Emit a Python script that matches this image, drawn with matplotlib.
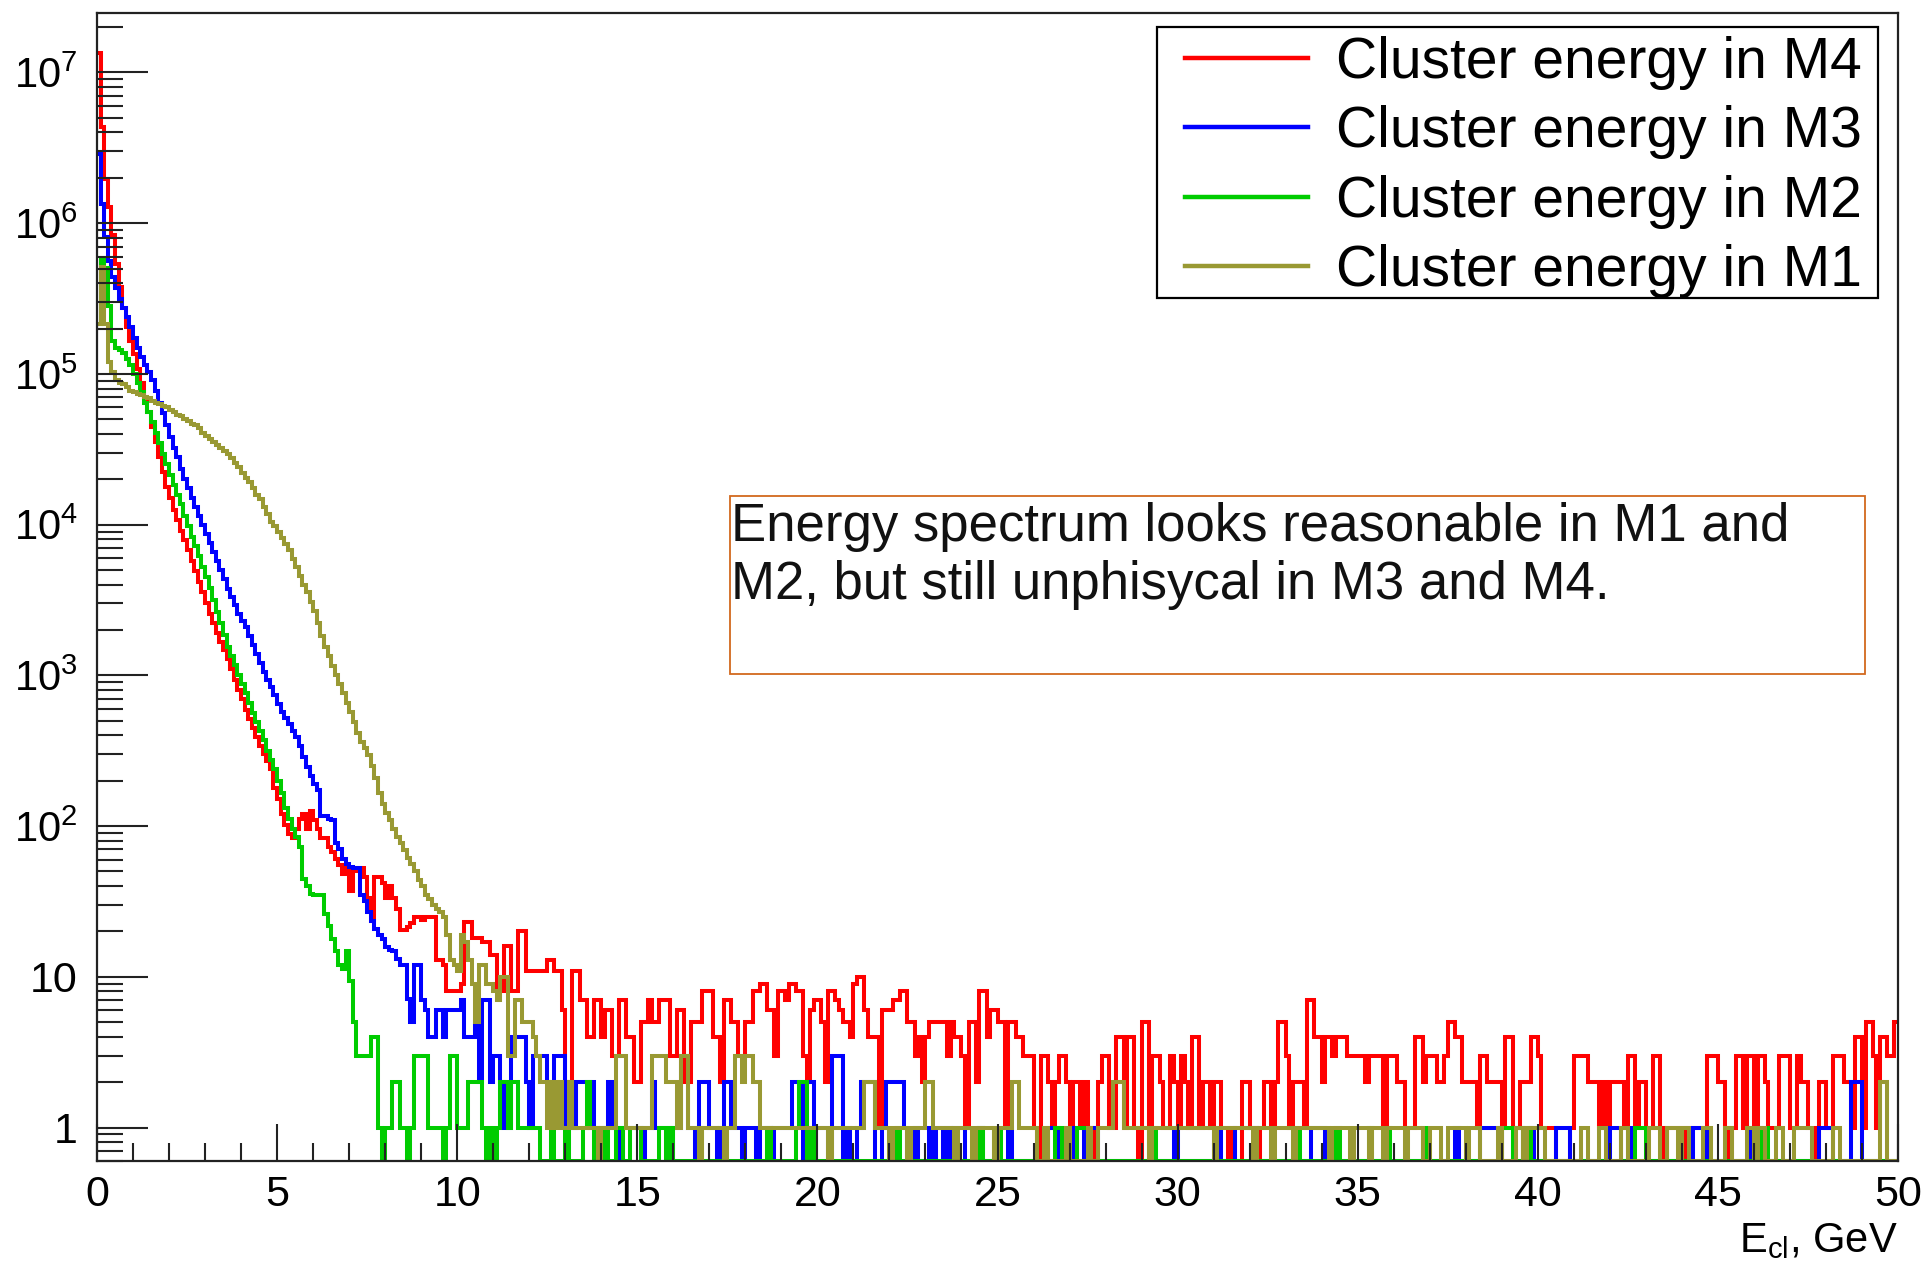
import numpy as np
import matplotlib
matplotlib.use("Agg")
import matplotlib.pyplot as plt
from matplotlib.patches import Rectangle
from matplotlib.lines import Line2D
from matplotlib.ticker import MultipleLocator, LogLocator, NullFormatter

plt.rcParams['font.family'] = ['Liberation Sans', 'DejaVu Sans']
plt.rcParams['mathtext.fontset'] = 'custom'
plt.rcParams['mathtext.rm'] = 'Liberation Sans'
plt.rcParams['mathtext.it'] = 'Liberation Sans:italic'
plt.rcParams['mathtext.bf'] = 'Liberation Sans:bold'

# binning of the histograms (GeV)
e_lo, e_hi, n_bins = 0.0, 50.0, 500

# steep part of each spectrum as log10(entries), bin by bin (0.1 GeV bins)
m4_head_log = [
    7.13, 6.64, 6.29, 6.11, 5.92, 5.73, 5.58, 5.44, 5.31, 5.22,
    5.13, 5.03, 4.94, 4.85, 4.75, 4.65, 4.55, 4.45, 4.35, 4.25,
    4.18, 4.10, 4.03, 3.96, 3.90, 3.83, 3.76, 3.69, 3.62, 3.55,
    3.48, 3.41, 3.35, 3.28, 3.22, 3.17, 3.11, 3.04, 2.97, 2.90,
    2.84, 2.77, 2.71, 2.65, 2.59, 2.53, 2.48, 2.43, 2.38, 2.25,
    2.18, 2.08, 2.01, 1.95, 1.92, 1.98, 2.05, 2.08, 1.98, 2.10,
    2.04, 1.98, 1.92, 1.92, 1.86, 1.83, 1.78, 1.74, 1.68, 1.72,
    1.57, 1.72, 1.70, 1.72, 1.66, 1.52, 1.37, 1.66, 1.66, 1.62,
    1.52, 1.60, 1.52, 1.45, 1.31, 1.31, 1.33, 1.36, 1.40, 1.40,
]
m3_head_log = [
    6.46, 6.13, 5.91, 5.75, 5.64, 5.57, 5.50, 5.44, 5.38, 5.31,
    5.24, 5.17, 5.11, 5.06, 5.01, 4.96, 4.89, 4.81, 4.74, 4.66,
    4.58, 4.51, 4.45, 4.37, 4.30, 4.24, 4.18, 4.12, 4.06, 4.00,
    3.94, 3.88, 3.82, 3.76, 3.70, 3.64, 3.57, 3.52, 3.47, 3.41,
    3.36, 3.32, 3.26, 3.20, 3.14, 3.08, 3.02, 2.97, 2.92, 2.87,
    2.81, 2.76, 2.72, 2.68, 2.63, 2.59, 2.53, 2.46, 2.39, 2.33,
    2.28, 2.24, 2.07, 2.07, 2.05, 2.04, 1.89, 1.85, 1.78, 1.75,
    1.73, 1.72, 1.72, 1.54, 1.50, 1.43, 1.37, 1.32, 1.28, 1.25,
    1.20, 1.18, 1.17, 1.12, 1.08, 1.08, 0.85, 0.70, 1.08, 1.08,
]
m2_head_log = [
    5.33, 5.77, 5.70, 5.45, 5.22, 5.17, 5.16, 5.14, 5.10, 5.06,
    5.00, 4.94, 4.88, 4.81, 4.75, 4.68, 4.61, 4.54, 4.47, 4.40,
    4.33, 4.26, 4.20, 4.14, 4.06, 3.99, 3.92, 3.86, 3.79, 3.72,
    3.65, 3.58, 3.50, 3.42, 3.35, 3.27, 3.19, 3.13, 3.07, 3.00,
    2.94, 2.88, 2.82, 2.75, 2.69, 2.63, 2.57, 2.50, 2.44, 2.38,
    2.30, 2.22, 2.12, 2.05, 1.98, 1.93, 1.86, 1.65, 1.60, 1.55,
    1.54, 1.54, 1.54, 1.42, 1.34, 1.25, 1.17, 1.08, 1.05, 1.17,
    0.97, 0.70,
]
m1_head_log = [
    5.33, 5.71, 5.33, 5.08, 5.01, 4.96, 4.94, 4.93, 4.91, 4.89,
    4.88, 4.87, 4.86, 4.85, 4.84, 4.82, 4.81, 4.80, 4.79, 4.78,
    4.76, 4.75, 4.73, 4.72, 4.70, 4.69, 4.67, 4.66, 4.64, 4.61,
    4.59, 4.57, 4.55, 4.53, 4.51, 4.49, 4.47, 4.44, 4.41, 4.38,
    4.34, 4.31, 4.28, 4.24, 4.20, 4.17, 4.12, 4.07, 4.02, 3.99,
    3.95, 3.91, 3.87, 3.83, 3.77, 3.72, 3.66, 3.60, 3.55, 3.49,
    3.43, 3.35, 3.26, 3.19, 3.13, 3.06, 3.00, 2.94, 2.88, 2.82,
    2.76, 2.69, 2.62, 2.56, 2.52, 2.47, 2.40, 2.32, 2.22, 2.15,
    2.09, 2.04, 1.98, 1.93, 1.89, 1.84, 1.79, 1.75, 1.70, 1.64,
]

# low-statistics tails as raw entries per bin
m4_tail = [
    24, 25, 25, 25, 13, 13, 12, 8, 8, 8,
    8, 9, 23, 23, 18, 18, 18, 17, 17, 14,
    14, 8, 8, 16, 16, 8, 8, 20, 20, 11,
    11, 11, 11, 11, 11, 13, 13, 11, 11, 6,
    2, 2, 11, 11, 7, 7, 4, 4, 7, 7,
    4, 6, 6, 3, 3, 7, 7, 4, 4, 2,
    2, 5, 5, 7, 5, 5, 7, 7, 7, 3,
    3, 6, 6, 2, 2, 5, 5, 5, 8, 8,
    8, 4, 4, 2, 7, 7, 5, 5, 3, 3,
    5, 5, 8, 8, 9, 9, 6, 6, 3, 8,
    8, 7, 9, 9, 8, 8, 3, 2, 6, 7,
    7, 5, 2, 8, 8, 7, 6, 5, 5, 4,
    9, 10, 10, 6, 4, 4, 4, 1, 6, 6,
    6, 7, 7, 8, 8, 5, 5, 3, 4, 2,
    4, 5, 5, 5, 5, 5, 3, 5, 4, 4,
    3, 1, 5, 5, 2, 8, 8, 4, 6, 6,
    5, 5, 1, 5, 5, 4, 4, 3, 3, 3,
    1, 0, 3, 3, 2, 1, 2, 3, 3, 2,
    1, 2, 2, 1, 2, 1, 0, 1, 2, 3,
    3, 1, 1, 4, 4, 1, 4, 4, 1, 0,
    5, 5, 1, 3, 3, 2, 1, 1, 3, 2,
    1, 3, 2, 1, 4, 4, 1, 2, 2, 1,
    2, 2, 1, 1, 0, 1, 0, 0, 2, 2,
    1, 1, 0, 1, 2, 2, 1, 2, 5, 5,
    3, 1, 2, 2, 2, 1, 7, 7, 4, 4,
    2, 4, 4, 3, 4, 4, 4, 3, 3, 3,
    3, 3, 2, 3, 3, 3, 3, 1, 3, 3,
    3, 2, 2, 1, 1, 1, 4, 4, 2, 3,
    3, 3, 2, 2, 3, 5, 5, 4, 4, 2,
    2, 2, 2, 1, 3, 3, 2, 2, 2, 2,
    1, 4, 4, 1, 1, 2, 2, 2, 4, 4,
    3, 1, 1, 1, 1, 0, 0, 0, 0, 1,
    3, 3, 3, 3, 2, 2, 2, 1, 2, 1,
    2, 2, 2, 2, 1, 3, 3, 1, 2, 2,
    1, 1, 3, 3, 1, 0, 1, 1, 1, 1,
    1, 0, 1, 1, 1, 1, 1, 3, 3, 3,
    2, 2, 1, 0, 1, 3, 3, 1, 3, 3,
    1, 3, 3, 2, 1, 1, 1, 3, 3, 3,
    1, 1, 3, 2, 2, 1, 1, 0, 2, 2,
    1, 1, 3, 3, 3, 2, 2, 1, 4, 4,
    1, 5, 5, 3, 1, 4, 4, 3, 3, 5,
]
m3_tail = [
    7, 6, 4, 4, 6, 6, 4, 6, 6, 6,
    6, 7, 4, 4, 4, 5, 2, 7, 7, 2,
    3, 3, 2, 1, 1, 4, 4, 4, 4, 2,
    1, 3, 3, 3, 3, 2, 2, 3, 3, 3,
    1, 2, 1, 2, 2, 2, 2, 2, 1, 1,
    1, 1, 2, 1, 1, 0, 1, 1, 1, 1,
    1, 0, 1, 1, 2, 1, 1, 1, 1, 0,
    1, 1, 3, 3, 1, 1, 0, 2, 2, 2,
    1, 1, 0, 1, 2, 2, 1, 1, 1, 0,
    1, 1, 1, 0, 1, 1, 1, 0, 1, 1,
    1, 1, 1, 2, 2, 2, 0, 2, 2, 1,
    1, 1, 1, 0, 3, 3, 3, 0, 1, 0,
    0, 1, 2, 2, 2, 2, 0, 0, 1, 2,
    2, 2, 2, 2, 1, 0, 0, 1, 0, 0,
    0, 1, 0, 1, 1, 0, 1, 0, 1, 1,
    1, 0, 0, 0, 0, 1, 0, 0, 0, 0,
    0, 0, 0, 1, 0, 0, 0, 0, 0, 0,
    0, 0, 0, 0, 1, 1, 1, 0, 0, 0,
    0, 1, 0, 0, 1, 1, 1, 1, 0, 0,
    0, 0, 0, 0, 0, 0, 0, 0, 0, 0,
    0, 0, 0, 0, 0, 0, 0, 0, 0, 1,
    0, 0, 0, 0, 0, 0, 0, 0, 0, 0,
    1, 1, 0, 0, 0, 0, 1, 1, 1, 1,
    1, 1, 0, 0, 0, 0, 0, 0, 0, 0,
    0, 0, 0, 0, 0, 0, 0, 1, 1, 1,
    1, 0, 0, 0, 0, 0, 0, 0, 0, 0,
    0, 0, 0, 0, 0, 0, 0, 0, 0, 0,
    0, 0, 0, 0, 0, 0, 0, 0, 0, 0,
    0, 0, 0, 0, 0, 0, 0, 1, 0, 0,
    0, 0, 0, 0, 1, 1, 1, 1, 1, 1,
    0, 0, 0, 1, 1, 1, 0, 0, 1, 0,
    0, 0, 0, 0, 0, 1, 1, 1, 1, 0,
    0, 0, 0, 0, 0, 0, 0, 0, 0, 0,
    1, 1, 1, 0, 0, 1, 0, 0, 0, 0,
    0, 0, 0, 0, 0, 0, 0, 0, 0, 0,
    0, 0, 0, 1, 1, 1, 1, 0, 0, 0,
    0, 0, 0, 0, 0, 0, 0, 0, 0, 1,
    1, 1, 0, 0, 0, 0, 0, 0, 0, 0,
    0, 0, 0, 0, 0, 0, 0, 0, 1, 1,
    1, 1, 0, 0, 0, 0, 0, 2, 2, 2,
    0, 0, 0, 0, 0, 0, 0, 0, 0, 0,
]
m2_tail = [
    3, 3, 3, 3, 4, 4, 1, 0,
    1, 1, 2, 2, 1, 1, 0, 1, 3, 3,
    3, 3, 1, 1, 1, 1, 0, 1, 3, 3,
    1, 1, 1, 2, 2, 2, 2, 1, 0, 1,
    0, 1, 2, 2, 1, 2, 2, 1, 1, 1,
    1, 1, 1, 0, 0, 0, 1, 0, 0, 0,
    1, 0, 0, 0, 0, 1, 2, 1, 0, 1,
    0, 1, 0, 0, 1, 1, 0, 0, 1, 1,
    1, 0, 0, 0, 0, 0, 1, 1, 0, 1,
    0, 0, 0, 0, 0, 0, 0, 1, 0, 0,
    0, 0, 0, 0, 1, 0, 0, 0, 0, 0,
    0, 0, 0, 0, 0, 0, 1, 0, 0, 0,
    0, 0, 0, 0, 1, 2, 2, 0, 1, 0,
    0, 0, 0, 0, 0, 0, 0, 0, 0, 0,
    0, 0, 0, 0, 0, 0, 0, 0, 0, 0,
    0, 0, 1, 0, 0, 0, 0, 0, 0, 0,
    0, 0, 0, 0, 0, 0, 0, 0, 0, 0,
    0, 0, 0, 0, 0, 1, 0, 0, 0, 1,
    1, 0, 0, 0, 0, 0, 0, 0, 0, 0,
    0, 0, 0, 0, 0, 0, 1, 1, 0, 0,
    0, 0, 1, 1, 1, 0, 0, 0, 0, 0,
    0, 0, 0, 0, 0, 0, 0, 0, 0, 0,
    0, 0, 1, 1, 0, 0, 0, 0, 0, 0,
    0, 0, 0, 0, 0, 0, 0, 0, 0, 0,
    0, 0, 0, 0, 0, 0, 0, 0, 0, 0,
    0, 0, 0, 0, 0, 0, 0, 0, 0, 0,
    0, 0, 0, 1, 0, 0, 0, 0, 0, 0,
    0, 0, 0, 0, 1, 0, 0, 0, 0, 0,
    0, 0, 0, 1, 0, 0, 0, 0, 1, 0,
    0, 0, 0, 0, 0, 0, 0, 0, 1, 0,
    0, 0, 0, 0, 0, 0, 0, 0, 0, 0,
    0, 0, 0, 0, 0, 0, 0, 0, 0, 0,
    1, 1, 1, 0, 0, 0, 1, 1, 0, 0,
    0, 0, 0, 0, 0, 0, 0, 0, 0, 0,
    0, 0, 0, 0, 0, 0, 0, 0, 0, 0,
    0, 0, 0, 0, 0, 0, 0, 1, 1, 1,
    0, 0, 0, 0, 0, 0, 0, 0, 0, 0,
    0, 0, 0, 0, 0, 0, 0, 0, 0, 0,
    0, 0, 0, 0, 0, 0, 0, 0, 0, 0,
    0, 0, 1, 1, 0, 0, 0, 0, 0, 0,
    0, 0, 0, 0, 0, 0, 0, 0, 0, 0,
    0, 0, 0, 0, 0, 0, 0, 0, 0, 0,
    0, 0, 0, 0, 0, 0, 0, 0, 0, 0,
]
m1_tail = [
    40, 35, 33, 30, 28, 27, 25, 19, 13, 12,
    11, 19, 17, 13, 9, 5, 12, 12, 9, 9,
    8, 7, 10, 10, 3, 3, 7, 7, 5, 5,
    5, 4, 3, 2, 2, 1, 2, 1, 2, 1,
    1, 2, 1, 1, 1, 1, 1, 1, 1, 0,
    1, 1, 1, 1, 3, 3, 3, 1, 1, 1,
    1, 1, 1, 1, 3, 3, 3, 3, 2, 2,
    2, 1, 3, 3, 1, 1, 1, 0, 1, 1,
    1, 1, 1, 1, 0, 1, 1, 3, 3, 2,
    3, 3, 2, 2, 1, 1, 1, 1, 1, 1,
    1, 1, 1, 1, 1, 1, 1, 1, 1, 1,
    1, 1, 1, 0, 1, 1, 1, 1, 1, 1,
    1, 1, 1, 2, 2, 2, 1, 1, 1, 1,
    0, 1, 1, 1, 1, 0, 1, 1, 1, 1,
    2, 2, 1, 1, 1, 1, 1, 1, 0, 1,
    1, 1, 1, 0, 1, 1, 1, 1, 1, 0,
    1, 1, 1, 1, 2, 2, 1, 1, 1, 1,
    1, 0, 0, 1, 0, 0, 0, 0, 0, 1,
    0, 0, 0, 0, 0, 1, 0, 0, 1, 1,
    1, 1, 2, 2, 2, 1, 1, 1, 1, 1,
    1, 1, 0, 1, 1, 1, 1, 1, 1, 1,
    1, 1, 1, 1, 1, 1, 1, 1, 1, 1,
    0, 1, 1, 1, 1, 1, 1, 1, 1, 1,
    1, 0, 1, 1, 1, 1, 0, 1, 1, 1,
    1, 1, 0, 1, 1, 1, 1, 1, 1, 1,
    1, 1, 0, 1, 1, 1, 1, 1, 0, 1,
    1, 1, 1, 0, 1, 1, 1, 0, 1, 1,
    1, 1, 1, 0, 1, 1, 1, 1, 0, 0,
    1, 1, 1, 0, 0, 1, 1, 1, 1, 1,
    0, 1, 1, 1, 0, 0, 0, 0, 0, 1,
    0, 0, 0, 0, 1, 1, 0, 1, 1, 1,
    1, 1, 0, 0, 0, 0, 0, 0, 0, 0,
    0, 0, 1, 1, 0, 0, 0, 1, 1, 0,
    0, 0, 0, 1, 1, 0, 0, 0, 0, 0,
    0, 1, 1, 1, 0, 0, 1, 1, 1, 0,
    1, 1, 0, 0, 0, 0, 1, 1, 0, 0,
    0, 0, 1, 1, 0, 0, 0, 0, 1, 1,
    0, 1, 1, 0, 0, 0, 1, 1, 0, 0,
    0, 1, 1, 1, 1, 1, 0, 0, 0, 0,
    0, 0, 1, 1, 0, 0, 0, 0, 0, 0,
    0, 0, 0, 0, 0, 2, 2, 0, 0, 0,
]

labels = ["Cluster energy in M4", "Cluster energy in M3",
          "Cluster energy in M2", "Cluster energy in M1"]
colors = ["#ff0000", "#0000ff", "#00cc00", "#999933"]

y_ticks = [1, 10, 1e2, 1e3, 1e4, 1e5, 1e6, 1e7]
y_tick_labels = ["1", "10", r"$\mathregular{10^{2}}$", r"$\mathregular{10^{3}}$",
                 r"$\mathregular{10^{4}}$", r"$\mathregular{10^{5}}$",
                 r"$\mathregular{10^{6}}$", r"$\mathregular{10^{7}}$"]
y_min, y_max = 0.6, 2.5e7

note = "Energy spectrum looks reasonable in M1 and\nM2, but still unphisycal in M3 and M4."

W, H = 1928, 1266
fig = plt.figure(figsize=(W / 100, H / 100), dpi=100)
ax = fig.add_axes([97 / W, 1 - 1161 / H, (1898 - 97) / W, (1161 - 12.5) / H])

edges = np.linspace(e_lo, e_hi, n_bins + 1)
series = [(m4_head_log, m4_tail), (m3_head_log, m3_tail),
          (m2_head_log, m2_tail), (m1_head_log, m1_tail)]

for (head, tail), col, lab in zip(series, colors, labels):
    counts = np.concatenate([10 ** np.array(head), np.array(tail, dtype=float)])
    assert len(counts) == n_bins, (lab, len(counts))
    # empty bins sit on the frame, like ROOT does on a log axis
    counts = np.where(counts > 0, counts, y_min)
    ax.stairs(counts, edges, color=col, lw=2.9, baseline=None)

ax.set_yscale("log")
ax.set_xlim(e_lo, e_hi)
ax.set_ylim(y_min, y_max)

ax.set_yticks(y_ticks, y_tick_labels)
ax.yaxis.set_minor_locator(LogLocator(base=10, subs=np.arange(2, 10), numticks=30))
ax.yaxis.set_minor_formatter(NullFormatter())
ax.xaxis.set_major_locator(MultipleLocator(5))
ax.xaxis.set_minor_locator(MultipleLocator(1))

ax.tick_params(axis="both", which="both", direction="in", top=False, right=False,
               width=1.5, color="#222222")
ax.tick_params(axis="x", which="major", length=27, pad=10, labelsize=31)
ax.tick_params(axis="x", which="minor", length=13)
ax.tick_params(axis="y", which="major", length=37, pad=14, labelsize=31)
ax.tick_params(axis="y", which="minor", length=19)
for t in ax.get_yticklabels():
    if "^" in t.get_text():
        t.set_fontsize(30)

for sp in ax.spines.values():
    sp.set_linewidth(1.6)
    sp.set_color("#222222")

# legend box drawn separately so its margins can match the original
ax.add_patch(Rectangle((1157 / W, 1 - 298 / H), (1878 - 1157) / W, (298 - 27) / H,
                       transform=fig.transFigure, facecolor="white",
                       edgecolor="black", lw=1.6, clip_on=False, zorder=5))
handles = [Line2D([], [], color=c, lw=3.2) for c in colors]
leg = ax.legend(handles, labels, loc="upper right",
                bbox_to_anchor=(1869 / W, 1 - 29 / H), bbox_transform=fig.transFigure,
                fontsize=41, frameon=False, borderpad=0.12, labelspacing=0.27,
                handlelength=2.15, handletextpad=0.5, borderaxespad=0)
leg.set_zorder(6)

ax.add_patch(Rectangle((730 / W, 1 - 674 / H), (1865 - 730) / W, (674 - 496) / H,
                       transform=fig.transFigure, facecolor="white",
                       edgecolor="#d2691e", lw=1.3, clip_on=False, zorder=5))
ax.text(731 / W, 1 - 502 / H, note, transform=fig.transFigure, ha="left", va="top",
        fontsize=38, linespacing=1.2, color="#111111", zorder=6)

fig.text(1898 / W, 1 - 1252 / H, r"$\mathregular{E_{cl}}$, GeV", ha="right",
         va="baseline", fontsize=30)

fig.savefig("out.png", dpi=100)
